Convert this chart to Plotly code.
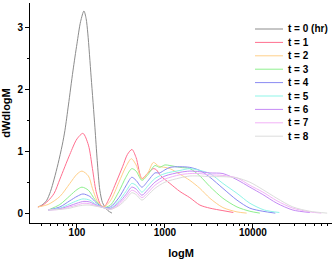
import plotly.graph_objects as go

# ---- data ----
labels = ["t = 0 (hr)", "t = 1", "t = 2", "t = 3", "t = 4", "t = 5", "t = 6", "t = 7", "t = 8"]
colors = ["#8c8c8c", "#ff6f8f", "#ffd08a", "#8ef08e", "#8a8af2", "#8ff5e8", "#c58af5", "#f2b3f7", "#dcdcdc"]

M_t0 = [36, 40, 45, 50, 55, 61, 68, 73, 80, 90, 100, 110, 120, 127, 133, 145, 160, 170, 182, 195, 208, 225, 250]
W_t0 = [0.10, 0.13, 0.20, 0.35, 0.55, 0.80, 1.10, 1.34, 1.75, 2.30, 2.74, 3.10, 3.27, 3.15, 2.90, 2.20, 1.39, 0.85, 0.37, 0.17, 0.10, 0.04, 0.0]

M_t1 = [36, 40, 47, 55, 64, 83, 100, 117, 135, 150, 165, 185, 203, 235, 270, 330, 375, 422, 470, 548, 640, 740, 800, 900, 1140, 1480, 1920, 2500, 3250, 4570, 6000]
W_t1 = [0.10, 0.12, 0.20, 0.32, 0.55, 0.95, 1.20, 1.29, 1.10, 0.72, 0.35, 0.14, 0.10, 0.25, 0.45, 0.75, 0.95, 1.03, 0.90, 0.56, 0.65, 0.72, 0.70, 0.60, 0.48, 0.35, 0.25, 0.13, 0.08, 0.04, 0.01]

M_t2 = [36, 47, 64, 83, 100, 114, 135, 150, 170, 200, 240, 300, 360, 415, 470, 548, 640, 740, 850, 1000, 1140, 1480, 1920, 2500, 3250, 4570, 6600, 8500]
W_t2 = [0.10, 0.14, 0.27, 0.48, 0.63, 0.68, 0.60, 0.40, 0.20, 0.10, 0.20, 0.50, 0.75, 0.88, 0.78, 0.55, 0.65, 0.82, 0.76, 0.74, 0.72, 0.63, 0.53, 0.40, 0.24, 0.09, 0.02, 0.0]

M_t3 = [47, 64, 83, 100, 114, 135, 160, 197, 240, 300, 360, 420, 470, 548, 640, 770, 870, 1000, 1140, 1480, 1920, 2500, 3250, 4570, 6600, 9250, 12000]
W_t3 = [0.05, 0.14, 0.28, 0.38, 0.42, 0.37, 0.22, 0.09, 0.13, 0.35, 0.58, 0.72, 0.68, 0.53, 0.62, 0.77, 0.74, 0.78, 0.77, 0.74, 0.72, 0.60, 0.43, 0.24, 0.10, 0.03, 0.0]

M_t4 = [47, 64, 83, 100, 117, 140, 165, 200, 240, 300, 360, 420, 470, 548, 640, 770, 870, 1000, 1140, 1480, 1920, 2500, 3250, 4570, 6600, 9250, 13000, 18000]
W_t4 = [0.05, 0.10, 0.20, 0.27, 0.31, 0.27, 0.17, 0.09, 0.10, 0.25, 0.44, 0.58, 0.53, 0.42, 0.52, 0.65, 0.65, 0.70, 0.74, 0.75, 0.74, 0.69, 0.58, 0.40, 0.21, 0.08, 0.03, 0.0]

M_t5 = [47, 64, 83, 100, 117, 140, 165, 200, 240, 300, 360, 420, 470, 548, 640, 770, 1000, 1480, 1920, 2500, 3250, 4570, 6600, 9250, 13500, 20000]
W_t5 = [0.05, 0.08, 0.15, 0.20, 0.23, 0.21, 0.14, 0.09, 0.08, 0.20, 0.35, 0.48, 0.45, 0.34, 0.44, 0.56, 0.64, 0.69, 0.72, 0.69, 0.64, 0.48, 0.32, 0.16, 0.05, 0.01]

M_t6 = [47, 64, 83, 100, 120, 140, 165, 200, 240, 300, 360, 420, 470, 548, 640, 770, 1000, 1480, 1920, 2500, 3250, 4570, 6600, 9250, 13000, 18750, 28500, 44500]
W_t6 = [0.05, 0.07, 0.12, 0.16, 0.19, 0.18, 0.13, 0.09, 0.07, 0.17, 0.30, 0.42, 0.39, 0.29, 0.38, 0.50, 0.60, 0.66, 0.68, 0.67, 0.65, 0.64, 0.54, 0.42, 0.30, 0.16, 0.05, 0.01]

M_t7 = [47, 64, 83, 100, 120, 140, 165, 200, 240, 300, 360, 420, 470, 548, 640, 770, 1000, 1480, 1920, 2500, 3250, 4570, 6600, 9250, 13000, 18750, 28500, 44500, 60000]
W_t7 = [0.05, 0.06, 0.10, 0.13, 0.16, 0.15, 0.12, 0.09, 0.06, 0.14, 0.26, 0.37, 0.34, 0.25, 0.33, 0.45, 0.55, 0.62, 0.64, 0.64, 0.62, 0.61, 0.57, 0.45, 0.34, 0.20, 0.08, 0.02, 0.0]

M_t8 = [47, 64, 83, 100, 120, 140, 165, 200, 240, 300, 360, 420, 470, 548, 640, 770, 1000, 1480, 1920, 2500, 3250, 4570, 6600, 9250, 13000, 18750, 28500, 44500, 70000]
W_t8 = [0.05, 0.06, 0.08, 0.11, 0.13, 0.13, 0.11, 0.09, 0.06, 0.12, 0.22, 0.33, 0.30, 0.21, 0.29, 0.40, 0.50, 0.57, 0.60, 0.60, 0.59, 0.59, 0.57, 0.50, 0.38, 0.24, 0.10, 0.03, 0.0]

series_M = [M_t0, M_t1, M_t2, M_t3, M_t4, M_t5, M_t6, M_t7, M_t8]
series_W = [W_t0, W_t1, W_t2, W_t3, W_t4, W_t5, W_t6, W_t7, W_t8]

x_tickvals = [100, 1000, 10000]
x_ticktext = ["100", "1000", "10000"]
x_minor = [40, 50, 60, 70, 80, 90, 200, 300, 400, 500, 600, 700, 800, 900,
           2000, 3000, 4000, 5000, 6000, 7000, 8000, 9000,
           20000, 30000, 40000, 50000, 60000, 70000]

# ---- figure ----
FONT = "Liberation Sans"
W, H = 333, 259
ML, MR, MT, MB = 30, 1, 3, 36
PW, PH = W - ML - MR, H - MT - MB

fig = go.Figure()
for name, col, mx, wy in zip(labels, colors, series_M, series_W):
    fig.add_trace(go.Scatter(x=mx, y=wy, mode="lines", name=name,
                             line=dict(color=col, width=1, shape="spline", smoothing=0.8),
                             showlegend=False))

# manual compact legend (matches reference spacing)
leg_x0, leg_x1, leg_tx, leg_y0, leg_dy = 255, 283, 286, 29, 13.4
for i, (name, col) in enumerate(zip(labels, colors)):
    py = leg_y0 + i * leg_dy
    yp = (H - MB - py) / PH
    fig.add_shape(type="line", xref="paper", yref="paper",
                  x0=(leg_x0 - ML) / PW, x1=(leg_x1 - ML) / PW, y0=yp, y1=yp,
                  line=dict(color=col, width=1))
    fig.add_annotation(xref="paper", yref="paper", x=(leg_tx - ML) / PW, y=yp,
                       xanchor="left", yanchor="middle", text=name, showarrow=False,
                       font=dict(family=FONT, size=10, color="black", weight="bold"))

axis_common = dict(showline=True, linecolor="black", linewidth=1, ticks="outside",
                   ticklen=4, tickwidth=1, tickcolor="black", showgrid=False, zeroline=False,
                   tickfont=dict(family=FONT, size=10, color="black", weight="bold"),
                   mirror=False, automargin=False)

fig.update_xaxes(type="log", range=[1.466, 4.9], tickmode="array", tickvals=x_tickvals,
                 ticktext=x_ticktext, ticklabelstandoff=-4,
                 minor=dict(tickmode="array", tickvals=x_minor, ticks="outside", ticklen=2,
                            tickcolor="black", tickwidth=1, showgrid=False),
                 title=dict(text="logM", font=dict(family=FONT, size=11, color="black", weight="bold"),
                            standoff=12),
                 **axis_common)
fig.update_yaxes(range=[-0.16, 3.4], tickmode="linear", tick0=0, dtick=1,
                 minor=dict(dtick=0.5, ticks="outside", ticklen=2, tickcolor="black", tickwidth=1,
                            showgrid=False),
                 title=dict(text="dWdlogM", font=dict(family=FONT, size=11, color="black", weight="bold"),
                            standoff=4),
                 **axis_common)

fig.update_layout(width=W, height=H, margin=dict(l=ML, r=MR, t=MT, b=MB),
                  paper_bgcolor="white", plot_bgcolor="white", showlegend=False)

fig.write_html("out.html", config={"displayModeBar": False},
               post_script="document.body.style.margin='0';")
